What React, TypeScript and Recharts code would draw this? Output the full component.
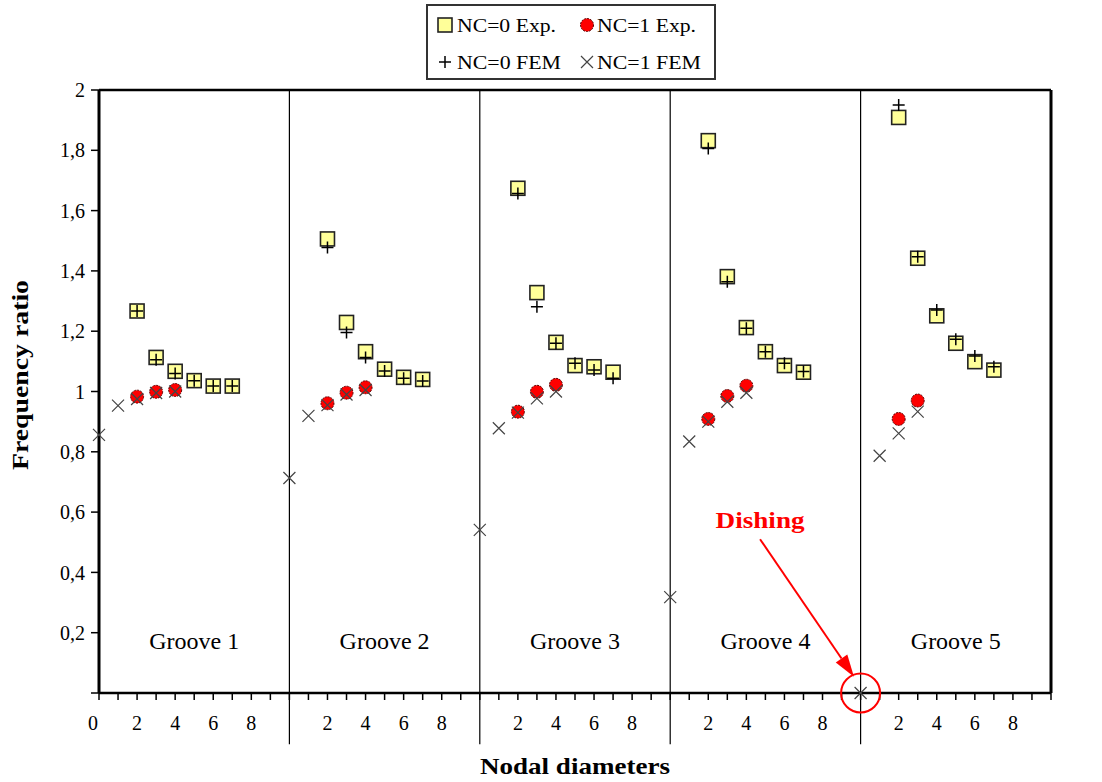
import React from "react";
import {
  ReferenceDot,
  ReferenceLine,
  Scatter,
  ScatterChart,
  XAxis,
  YAxis,
} from "recharts";

const SERIF = "'Liberation Serif', 'Times New Roman', serif";

// five grooves, each one spans ten nodal diameters on the x axis
const grooves = ["Groove 1", "Groove 2", "Groove 3", "Groove 4", "Groove 5"];

// NC=0, nodal diameters 2..7
const nc0Diameters = [2, 3, 4, 5, 6, 7];
const nc0Exp = [
  [1.267, 1.113, 1.067, 1.036, 1.018, 1.018],
  [1.506, 1.229, 1.132, 1.074, 1.047, 1.04],
  [1.674, 1.328, 1.163, 1.086, 1.082, 1.064],
  [1.832, 1.381, 1.212, 1.132, 1.086, 1.064],
  [1.909, 1.442, 1.251, 1.16, 1.099, 1.071],
];
const nc0Fem = [
  [1.267, 1.105, 1.06, 1.036, 1.018, 1.018],
  [1.478, 1.196, 1.113, 1.068, 1.044, 1.035],
  [1.657, 1.281, 1.16, 1.094, 1.071, 1.044],
  [1.806, 1.364, 1.21, 1.132, 1.094, 1.066],
  [1.95, 1.447, 1.27, 1.173, 1.118, 1.082],
];

// NC=1 measurements start at 2 nodal diameters
const nc1ExpDiameters = [2, 3, 4];
const nc1Exp = [
  [0.983, 0.999, 1.005],
  [0.961, 0.996, 1.014],
  [0.933, 0.999, 1.022],
  [0.909, 0.985, 1.019],
  [0.909, 0.97],
];

// NC=1 FEM starts at 0 nodal diameters (dishing mode at groove 5)
const nc1FemDiameters = [0, 1, 2, 3, 4];
const nc1Fem = [
  [0.856, 0.953, 0.975, 0.995, 1.0],
  [0.713, 0.919, 0.955, 0.99, 1.005],
  [0.541, 0.878, 0.93, 0.977, 1.0],
  [0.318, 0.834, 0.9, 0.966, 0.996],
  [0.0, 0.787, 0.861, 0.933],
];

const yTicks = [0, 0.2, 0.4, 0.6, 0.8, 1, 1.2, 1.4, 1.6, 1.8, 2];
const xTicks = Array.from({ length: 51 }, (_, i) => i);
const dividers = [10, 20, 30, 40];

const toPoints = (values: number[][], diameters: number[]) =>
  values.flatMap((row, g) => row.map((y, i) => ({ x: g * 10 + diameters[i], y })));

const expNC0Points = toPoints(nc0Exp, nc0Diameters);
const femNC0Points = toPoints(nc0Fem, nc0Diameters);
const expNC1Points = toPoints(nc1Exp, nc1ExpDiameters);
const femNC1Points = toPoints(nc1Fem, nc1FemDiameters);

const SquareMark = ({ cx, cy }: any) => (
  <rect x={cx - 7} y={cy - 7} width={14} height={14} fill="#ffff99" stroke="#222" strokeWidth={1.6} />
);
const DotMark = ({ cx, cy }: any) => (
  <circle cx={cx} cy={cy} r={6.5} fill="#ff0000" stroke="#5a0000" strokeWidth={1} strokeDasharray="2 1" />
);
const PlusMark = ({ cx, cy }: any) => (
  <path d={`M${cx - 6},${cy}H${cx + 6}M${cx},${cy - 6}V${cy + 6}`} stroke="#000" strokeWidth={1.5} />
);
const CrossMark = ({ cx, cy }: any) => (
  <path
    d={`M${cx - 6},${cy - 6}L${cx + 6},${cy + 6}M${cx - 6},${cy + 6}L${cx + 6},${cy - 6}`}
    stroke="#444"
    strokeWidth={1.2}
  />
);

const formatY = (v: number) => (v === 0 ? "" : String(v).replace(".", ","));

const XTick = ({ x, y, payload }: any) => {
  const v: number = payload.value;
  const n = v % 10;
  if (!(v === 0 || (n !== 0 && n % 2 === 0))) return <g />;
  return (
    <text x={v === 0 ? x - 6 : x} y={y} dy="0.71em" textAnchor="middle" fontSize={20} fontFamily={SERIF} fill="#000">
      {n}
    </text>
  );
};

const GrooveLabel = (text: string) => ({ cx, cy }: any) => (
  <text x={cx} y={cy} textAnchor="middle" fontSize={24} fontFamily={SERIF} fill="#000">
    {text}
  </text>
);

const DishingArrow = ({ x1, y1, x2, y2 }: any) => {
  const ang = Math.atan2(y2 - y1, x2 - x1);
  const len = 22;
  const half = 7;
  const bx = x2 - len * Math.cos(ang);
  const by = y2 - len * Math.sin(ang);
  const px = -Math.sin(ang) * half;
  const py = Math.cos(ang) * half;
  return (
    <g>
      <text
        x={x1}
        y={y1 - 11}
        textAnchor="middle"
        fontSize={24}
        fontWeight="bold"
        fontFamily={SERIF}
        fill="#ff0000"
        textLength={89}
        lengthAdjust="spacingAndGlyphs"
      >
        Dishing
      </text>
      <line x1={x1} y1={y1} x2={bx} y2={by} stroke="#ff0000" strokeWidth={2} />
      <path d={`M${x2},${y2}L${bx + px},${by + py}L${bx - px},${by - py}Z`} fill="#ff0000" />
    </g>
  );
};

const legendItems = [
  { name: "NC=0 Exp.", col: 0, row: 0, Mark: SquareMark },
  { name: "NC=1 Exp.", col: 1, row: 0, Mark: DotMark },
  { name: "NC=0 FEM", col: 0, row: 1, Mark: PlusMark },
  { name: "NC=1 FEM", col: 1, row: 1, Mark: CrossMark },
];

const LegendBox = () => (
  <svg width={290} height={76} style={{ position: "absolute", left: 426, top: 4 }}>
    <rect x={1} y={1} width={288} height={74} fill="#fff" stroke="#333" strokeWidth={2} />
    {legendItems.map(({ name, col, row, Mark }) => {
      const cx = col === 0 ? 19 : 161;
      const cy = row === 0 ? 21 : 58;
      return (
        <g key={name}>
          <Mark cx={cx} cy={cy} />
          <text
            x={col === 0 ? 31 : 171}
            y={cy + 7}
            fontSize={18}
            fontFamily={SERIF}
            fill="#000"
            textLength={row === 0 ? 99 : 104}
            lengthAdjust="spacingAndGlyphs"
          >
            {name}
          </text>
        </g>
      );
    })}
  </svg>
);

export default function App() {
  return (
    <div style={{ position: "absolute", left: 0, top: 0, width: 1102, height: 782, background: "#fff" }}>
      <ScatterChart width={1102} height={782} margin={{ top: 90, right: 0, bottom: 49, left: 39 }}>
        <XAxis
          type="number"
          dataKey="x"
          domain={[0, 50]}
          ticks={xTicks}
          interval={0}
          tick={<XTick />}
          tickSize={7}
          tickMargin={16}
          height={40}
          axisLine={{ stroke: "#000", strokeWidth: 2.5 }}
          tickLine={{ stroke: "#000", strokeWidth: 1.5 }}
          label={({ viewBox }: any) => (
            <text
              x={viewBox.x + viewBox.width / 2}
              y={774}
              textAnchor="middle"
              fontSize={23}
              fontWeight="bold"
              fontFamily={SERIF}
              fill="#000"
              textLength={190}
              lengthAdjust="spacingAndGlyphs"
            >
              Nodal diameters
            </text>
          )}
        />
        <YAxis
          yAxisId="left"
          type="number"
          dataKey="y"
          domain={[0, 2]}
          ticks={yTicks}
          interval={0}
          width={60}
          tickSize={8}
          tickMargin={6}
          tickFormatter={formatY}
          tick={{ fontSize: 20, fontFamily: SERIF, fill: "#000" }}
          axisLine={{ stroke: "#000", strokeWidth: 3 }}
          tickLine={{ stroke: "#000", strokeWidth: 1.5 }}
          label={() => (
            <text
              x={28}
              y={375}
              transform="rotate(-90 28 375)"
              textAnchor="middle"
              fontSize={24}
              fontWeight="bold"
              fontFamily={SERIF}
              fill="#000"
              textLength={190}
              lengthAdjust="spacingAndGlyphs"
            >
              Frequency ratio
            </text>
          )}
        />
        <YAxis
          yAxisId="right"
          orientation="right"
          type="number"
          domain={[0, 2]}
          ticks={yTicks}
          interval={0}
          width={51}
          tickSize={8}
          tickMargin={4}
          tickFormatter={formatY}
          tick={{ fontSize: 20, fontFamily: SERIF, fill: "#000", textAnchor: "start" }}
          axisLine={{ stroke: "#000", strokeWidth: 3 }}
          tickLine={{ stroke: "#000", strokeWidth: 1.5 }}
        />
        <ReferenceLine yAxisId="left" y={2} stroke="#000" strokeWidth={2.5} />
        {dividers.map((d) => (
          <ReferenceLine
            key={d}
            yAxisId="left"
            segment={[
              { x: d, y: -0.17 },
              { x: d, y: 2 },
            ]}
            ifOverflow="visible"
            stroke="#000"
            strokeWidth={1.2}
          />
        ))}
        {grooves.map((g, i) => (
          <ReferenceDot key={g} yAxisId="left" x={i * 10 + 5} y={0.146} r={0} shape={GrooveLabel(g)} />
        ))}
        <Scatter yAxisId="left" name="NC=0 Exp." data={expNC0Points} shape={SquareMark} isAnimationActive={false} />
        <Scatter yAxisId="left" name="NC=1 Exp." data={expNC1Points} shape={DotMark} isAnimationActive={false} />
        <Scatter yAxisId="left" name="NC=0 FEM" data={femNC0Points} shape={PlusMark} isAnimationActive={false} />
        <Scatter yAxisId="left" name="NC=1 FEM" data={femNC1Points} shape={CrossMark} isAnimationActive={false} />
        <ReferenceLine
          yAxisId="left"
          segment={[
            { x: 34.72, y: 0.51 },
            { x: 39.65, y: 0.054 },
          ]}
          ifOverflow="visible"
          shape={DishingArrow}
        />
        <ReferenceDot
          yAxisId="left"
          x={40}
          y={0}
          r={19.5}
          fill="none"
          stroke="#ff0000"
          strokeWidth={2}
          ifOverflow="visible"
        />
      </ScatterChart>
      <LegendBox />
    </div>
  );
}
